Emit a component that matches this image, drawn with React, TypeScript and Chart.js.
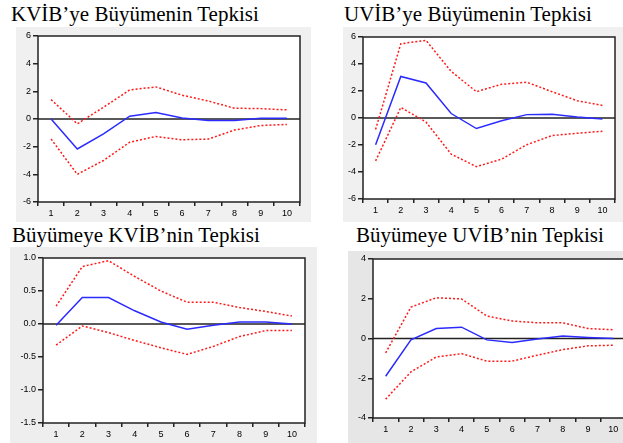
import React, { useEffect, useRef } from 'react';
import { Chart, registerables } from 'chart.js';

Chart.register(...registerables);

const periods = ['1', '2', '3', '4', '5', '6', '7', '8', '9', '10'];

// Panel A: KVİB'ye Büyümenin Tepkisi
const titleA = 'KVİB’ye Büyümenin Tepkisi';
const aResponse = [0.0, -2.17, -1.07, 0.2, 0.47, 0.08, -0.1, -0.1, 0.06, 0.06];
const aUpper = [1.4, -0.35, 0.85, 2.1, 2.32, 1.72, 1.3, 0.78, 0.75, 0.66];
const aLower = [-1.45, -4.0, -3.0, -1.68, -1.26, -1.5, -1.45, -0.8, -0.47, -0.39];
const aTicks = [-6, 6, 2];

// Panel B: UVİB'ye Büyümenin Tepkisi
const titleB = 'UVİB’ye Büyümenin Tepkisi';
const bResponse = [-1.98, 3.08, 2.6, 0.33, -0.78, -0.2, 0.25, 0.27, 0.07, -0.08];
const bUpper = [-0.85, 5.5, 5.75, 3.45, 1.95, 2.5, 2.65, 1.95, 1.28, 0.93];
const bLower = [-3.18, 0.78, -0.3, -2.68, -3.6, -3.05, -1.98, -1.3, -1.13, -0.98];
const bTicks = [-6, 6, 2];

// Panel C: Büyümeye KVİB'nin Tepkisi
const titleC = 'Büyümeye KVİB’nin Tepkisi';
const cResponse = [-0.02, 0.4, 0.4, 0.2, 0.03, -0.08, -0.02, 0.03, 0.03, 0.0];
const cUpper = [0.27, 0.87, 0.96, 0.72, 0.5, 0.33, 0.33, 0.25, 0.19, 0.12];
const cLower = [-0.32, -0.03, -0.13, -0.25, -0.36, -0.46, -0.34, -0.19, -0.1, -0.1];
const cTicks = [-1.5, 1.0, 0.5];

// Panel D: Büyümeye UVİB'nin Tepkisi
const titleD = 'Büyümeye UVİB’nin Tepkisi';
const dResponse = [-1.9, -0.07, 0.5, 0.57, -0.07, -0.2, -0.03, 0.12, 0.05, 0.0];
const dUpper = [-0.72, 1.58, 2.05, 1.99, 1.13, 0.88, 0.79, 0.79, 0.5, 0.44];
const dLower = [-3.05, -1.68, -0.93, -0.76, -1.14, -1.14, -0.84, -0.56, -0.37, -0.34];
const dTicks = [-4, 4, 2];

type PanelCfg = {
  title: string;
  response: number[];
  upper: number[];
  lower: number[];
  ticks: number[];
  decimals: number;
  box: { left: number; top: number; width: number; height: number; bg: string };
  area: { yAxisW: number; padTop: number; padRight: number; xAxisH: number };
  titlePos: { left: number; top: number };
};

const panels: PanelCfg[] = [
  {
    title: titleA, response: aResponse, upper: aUpper, lower: aLower, ticks: aTicks, decimals: 0,
    box: { left: 16, top: 27, width: 295, height: 195, bg: '#f0f0f0' },
    area: { yAxisW: 22, padTop: 9, padRight: 11, xAxisH: 20 },
    titlePos: { left: 11, top: 4 },
  },
  {
    title: titleB, response: bResponse, upper: bUpper, lower: bLower, ticks: bTicks, decimals: 0,
    box: { left: 343, top: 27, width: 280, height: 195, bg: '#f0f0f0' },
    area: { yAxisW: 20, padTop: 10, padRight: 8, xAxisH: 23 },
    titlePos: { left: 344, top: 4 },
  },
  {
    title: titleC, response: cResponse, upper: cUpper, lower: cLower, ticks: cTicks, decimals: 1,
    box: { left: 10, top: 247, width: 307, height: 196, bg: '#eeeeee' },
    area: { yAxisW: 33, padTop: 11, padRight: 12, xAxisH: 20 },
    titlePos: { left: 12, top: 225 },
  },
  {
    title: titleD, response: dResponse, upper: dUpper, lower: dLower, ticks: dTicks, decimals: 0,
    box: { left: 348, top: 251, width: 282, height: 192, bg: '#e6e6e6' },
    area: { yAxisW: 25, padTop: 8, padRight: 4, xAxisH: 25 },
    titlePos: { left: 356, top: 225 },
  },
];

const framePlugin = {
  id: 'eviewsFrame',
  beforeDraw(chart: any) {
    const { ctx, chartArea } = chart;
    const { left, top, right, bottom } = chartArea;
    ctx.save();
    ctx.fillStyle = '#ffffff';
    ctx.fillRect(left, top, right - left, bottom - top);
    ctx.restore();
  },
  beforeDatasetsDraw(chart: any) {
    const { ctx, chartArea, scales } = chart;
    const y0 = scales.y.getPixelForValue(0);
    ctx.save();
    ctx.strokeStyle = '#222222';
    ctx.lineWidth = 1.5;
    ctx.beginPath();
    ctx.moveTo(chartArea.left, y0);
    ctx.lineTo(chartArea.right, y0);
    ctx.stroke();
    ctx.restore();
  },
  afterDraw(chart: any) {
    const { ctx, chartArea } = chart;
    const { left, top, right, bottom } = chartArea;
    ctx.save();
    ctx.strokeStyle = '#222222';
    ctx.lineWidth = 1.5;
    ctx.strokeRect(left, top, right - left, bottom - top);
    ctx.restore();
  },
};

function Panel({ cfg }: { cfg: PanelCfg }) {
  const ref = useRef<HTMLCanvasElement | null>(null);
  useEffect(() => {
    if (!ref.current) return;
    const [yMin, yMax, yStep] = cfg.ticks;
    const tickFont = { family: '"Liberation Sans", Arial, sans-serif', size: 9 };
    const chart = new Chart(ref.current, {
      type: 'line',
      data: {
        labels: periods,
        datasets: [
          {
            data: cfg.upper,
            borderColor: '#ff1a1a',
            borderWidth: 1.5,
            borderDash: [2, 2],
            pointRadius: 0,
            tension: 0,
            fill: false,
          },
          {
            data: cfg.lower,
            borderColor: '#ff1a1a',
            borderWidth: 1.5,
            borderDash: [2, 2],
            pointRadius: 0,
            tension: 0,
            fill: false,
          },
          {
            data: cfg.response,
            borderColor: '#2b2bff',
            borderWidth: 1.5,
            pointRadius: 0,
            tension: 0,
            fill: false,
          },
        ],
      },
      options: {
        animation: false,
        responsive: false,
        devicePixelRatio: 1,
        layout: {
          padding: { left: 0, top: cfg.area.padTop, right: cfg.area.padRight, bottom: 0 },
        },
        plugins: {
          legend: { display: false },
          tooltip: { enabled: false },
          title: { display: false },
        },
        scales: {
          x: {
            type: 'category',
            offset: true,
            grid: {
              offset: true,
              drawOnChartArea: false,
              drawTicks: true,
              tickLength: 4,
              color: '#222222',
              tickColor: '#222222',
              lineWidth: 1.5,
            },
            border: { display: false },
            ticks: {
              font: tickFont,
              color: '#000000',
              padding: 2,
              maxRotation: 0,
              autoSkip: false,
            },
            afterFit: (scale: any) => {
              scale.height = cfg.area.xAxisH;
            },
          },
          y: {
            min: yMin,
            max: yMax,
            grid: {
              drawOnChartArea: false,
              drawTicks: true,
              tickLength: 5,
              color: '#222222',
              tickColor: '#222222',
              lineWidth: 1.5,
            },
            border: { display: false },
            ticks: {
              stepSize: yStep,
              font: tickFont,
              color: '#000000',
              padding: 2,
              callback: (v: any) => Number(v).toFixed(cfg.decimals),
            },
            afterFit: (scale: any) => {
              scale.width = cfg.area.yAxisW;
            },
          },
        },
      },
      plugins: [framePlugin],
    } as any);
    return () => chart.destroy();
  }, [cfg]);

  return (
    <>
      <div
        style={{
          position: 'absolute',
          left: cfg.box.left,
          top: cfg.box.top,
          width: cfg.box.width,
          height: cfg.box.height,
          background: cfg.box.bg,
        }}
      >
        <canvas ref={ref} width={cfg.box.width} height={cfg.box.height} style={{ display: 'block' }} />
      </div>
      <div
        style={{
          position: 'absolute',
          left: cfg.titlePos.left,
          top: cfg.titlePos.top,
          fontFamily: '"Liberation Serif", "Times New Roman", serif',
          fontSize: 21,
          lineHeight: '21px',
          whiteSpace: 'nowrap',
          color: '#000',
        }}
      >
        {cfg.title}
      </div>
    </>
  );
}

export default function App() {
  return (
    <div
      style={{
        position: 'absolute',
        left: 0,
        top: 0,
        width: 623,
        height: 443,
        overflow: 'hidden',
        background: '#ffffff',
      }}
    >
      {panels.map((p, i) => (
        <Panel key={i} cfg={p} />
      ))}
    </div>
  );
}
